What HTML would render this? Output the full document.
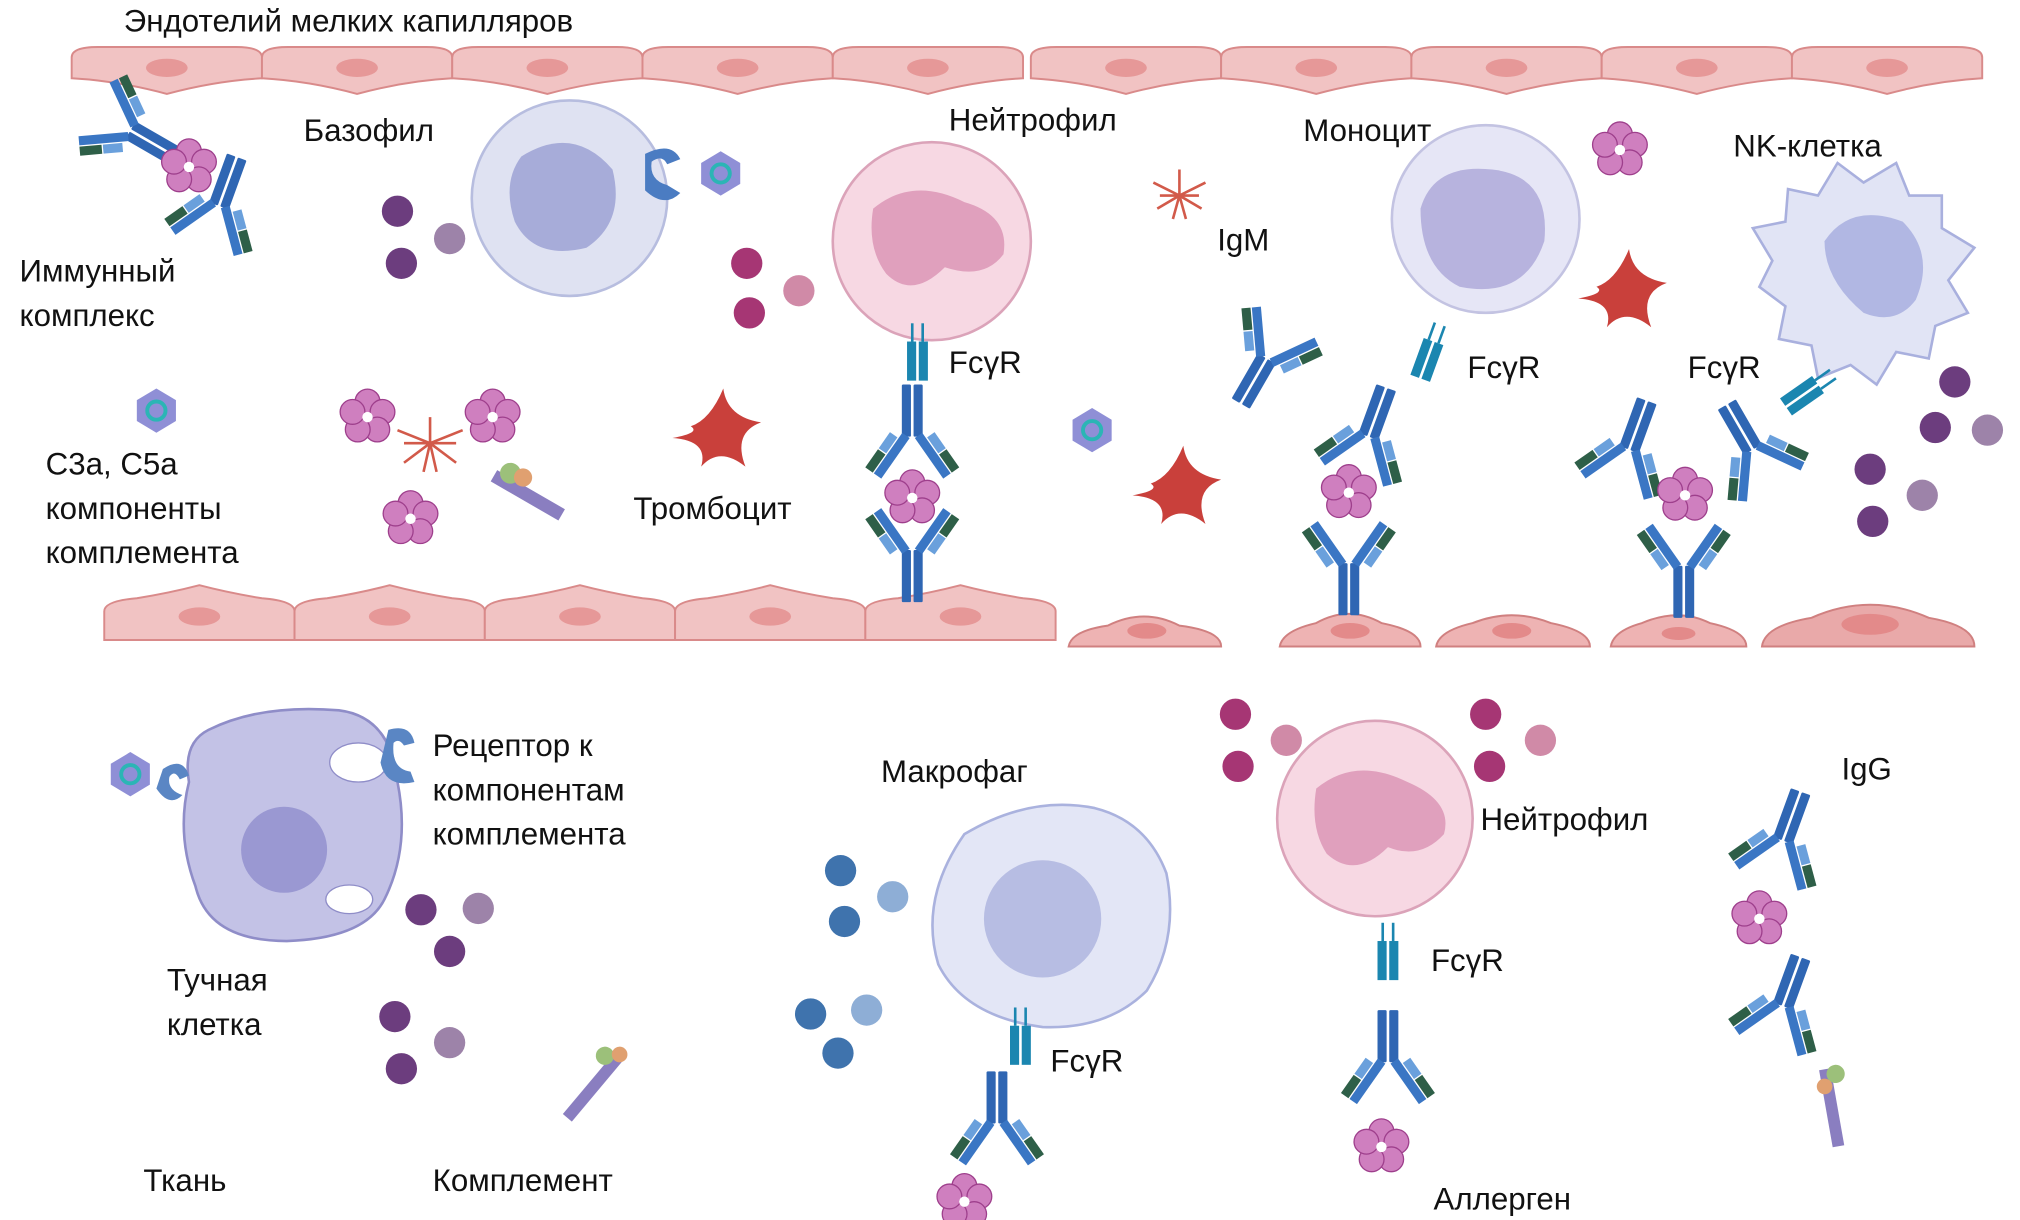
<!DOCTYPE html>
<html><head><meta charset="utf-8"><style>
html,body{margin:0;padding:0;background:#fff;}
svg{display:block;}
text{font-family:"Liberation Sans Narrow","Liberation Sans",sans-serif;font-size:24px;fill:#111;}
</style></head><body>
<svg width="2020" height="1220" viewBox="0 0 1550 936" xmlns="http://www.w3.org/2000/svg">
<defs>
<g id="ab">
  <rect x="-8" y="0" width="7" height="40" fill="#2f66b3" rx="1"/>
  <rect x="1" y="0" width="7" height="40" fill="#2f66b3" rx="1"/>
  <g transform="rotate(-35)"><rect x="-8" y="-40" width="7" height="38" fill="#3a76c4"/><rect x="-16" y="-40" width="7" height="17" fill="#2e5f48"/><rect x="-16" y="-22" width="7" height="15" fill="#6aa0dc"/></g>
  <g transform="rotate(35)"><rect x="1" y="-40" width="7" height="38" fill="#3a76c4"/><rect x="9" y="-40" width="7" height="17" fill="#2e5f48"/><rect x="9" y="-22" width="7" height="15" fill="#6aa0dc"/></g>
</g>
<g id="fl">
  <circle cx="0" cy="-12" r="9.5" fill="#cf7fbf" stroke="#9e3f8c"/>
  <circle cx="11.5" cy="-4" r="9.5" fill="#cf7fbf" stroke="#9e3f8c"/>
  <circle cx="7.5" cy="9.5" r="9.5" fill="#cf7fbf" stroke="#9e3f8c"/>
  <circle cx="-7.5" cy="9.5" r="9.5" fill="#cf7fbf" stroke="#9e3f8c"/>
  <circle cx="-11.5" cy="-4" r="9.5" fill="#cf7fbf" stroke="#9e3f8c"/>
  <circle cx="0" cy="0" r="4" fill="#fff"/>
</g>
<g id="cc"><polygon points="0,-17 15,-8 15,8 0,17 -15,8 -15,-8" fill="#8f8fd6"/><circle r="7" fill="none" stroke="#2bb5b5" stroke-width="3"/></g>
<g id="pl"><path d="M-20,-5 Q-5,-10 5,-34 Q8,-12 34,-8 Q12,0 22,26 Q2,10 -12,26 Q-6,6 -34,4 Q-12,0 -20,-5Z" fill="#c9403b"/></g>
<g id="ec"><path d="M0,10 Q0,2 20,2 L126,2 Q146,2 146,10 L146,26 Q110,28 73,38 Q36,28 0,26Z" fill="#f1c3c3" stroke="#d98a8a" stroke-width="1.5"/><ellipse cx="73" cy="18" rx="16" ry="7" fill="#e69898"/></g>
<g id="ecb"><path d="M0,14 Q0,6 25,4 Q50,0 73,-6 Q96,0 121,4 Q146,6 146,14 L146,36 L0,36Z" fill="#f1c3c3" stroke="#d98a8a" stroke-width="1.5"/><ellipse cx="73" cy="18" rx="16" ry="7" fill="#e69898"/></g>
<g id="rc"><rect x="-8" y="0" width="7" height="30" fill="#1b86b0"/><rect x="1" y="0" width="7" height="30" fill="#1b86b0"/><line x1="-4" y1="0" x2="-4" y2="-14" stroke="#1b86b0" stroke-width="2"/><line x1="4" y1="0" x2="4" y2="-14" stroke="#1b86b0" stroke-width="2"/></g>
</defs>

<g transform="translate(55,34)">
<use href="#ec" x="0"/><use href="#ec" x="146"/><use href="#ec" x="292"/><use href="#ec" x="438"/><use href="#ec" x="584"/><use href="#ec" x="736"/><use href="#ec" x="882"/><use href="#ec" x="1028"/><use href="#ec" x="1174"/><use href="#ec" x="1320"/>
</g>
<text x="95" y="24">Эндотелий мелких капилляров</text>

<g transform="translate(80,455)"><use href="#ecb" x="0"/><use href="#ecb" x="146"/><use href="#ecb" x="292"/><use href="#ecb" x="438"/><use href="#ecb" x="584"/></g>
<g fill="#eeb3b3" stroke="#d08080" stroke-width="1.5">
<path d="M820,496 Q822,484 850,480 Q878,466 905,480 Q937,484 937,496Z"/>
<path d="M982,496 Q984,484 1010,478 Q1035,464 1060,478 Q1090,484 1090,496Z"/>
<path d="M1102,496 Q1104,484 1130,478 Q1160,466 1190,478 Q1220,484 1220,496Z"/>
<path d="M1236,496 Q1238,484 1260,478 Q1288,466 1312,478 Q1340,484 1340,496Z"/>
<path d="M1352,496 Q1354,480 1390,474 Q1435,454 1480,474 Q1515,480 1515,496Z" fill="#e9a9a9"/>
</g>
<g fill="#e38a8a"><ellipse cx="880" cy="484" rx="15" ry="6"/><ellipse cx="1036" cy="484" rx="15" ry="6"/><ellipse cx="1160" cy="484" rx="15" ry="6"/><ellipse cx="1288" cy="486" rx="13" ry="5"/><ellipse cx="1435" cy="479" rx="22" ry="8"/></g>

<circle cx="437" cy="152" r="75" fill="#dfe2f2" stroke="#b7bddf" stroke-width="2"/>
<path d="M400,120 Q440,95 470,130 Q480,170 450,190 Q410,200 395,170 Q385,140 400,120Z" fill="#a7acd9"/>
<path d="M495,118 Q515,108 522,122 L512,126 Q508,118 500,124 Q498,138 512,142 L522,148 Q510,160 495,146Z" fill="#4b7cc2"/>
<use href="#cc" x="553" y="133"/>

<circle cx="715" cy="185" r="76" fill="#f7d8e3" stroke="#dba3b9" stroke-width="2"/>
<path d="M670,160 Q700,135 740,155 Q775,165 770,195 Q755,215 725,205 Q700,230 680,210 Q665,190 670,160Z" fill="#e0a0bd"/>
<use href="#rc" x="704" y="262"/>
<text x="728" y="286">FcγR</text>
<use href="#ab" x="700" y="335" transform="rotate(180 700 335)"/>
<use href="#fl" x="700" y="382"/>
<use href="#ab" x="700" y="422"/>
<text x="728" y="100">Нейтрофил</text>

<circle cx="1140" cy="168" r="72" fill="#e6e6f6" stroke="#c3c3e2" stroke-width="2"/>
<path d="M1090,160 Q1100,125 1145,130 Q1190,135 1185,185 Q1170,230 1120,220 Q1090,205 1090,160Z" fill="#b7b3de"/>
<use href="#rc" x="1100" y="262" transform="rotate(20 1100 262)"/>
<text x="1126" y="290">FcγR</text>
<use href="#ab" x="1050" y="335" transform="rotate(200 1050 335)"/>
<use href="#fl" x="1035" y="378"/>
<use href="#ab" x="1035" y="432"/>
<text x="1000" y="108">Моноцит</text>

<path d="M1360,200 L1345,175 L1370,170 L1372,145 L1395,150 L1410,125 L1430,140 L1455,125 L1465,150 L1490,150 L1490,175 L1515,190 L1495,215 L1510,240 L1485,250 L1480,275 L1455,270 L1440,295 L1420,280 L1395,290 L1390,265 L1365,260 L1370,235 L1350,220Z" fill="#e1e4f5" stroke="#a9b0de" stroke-width="2"/>
<path d="M1400,185 Q1420,155 1460,170 Q1485,195 1470,230 Q1455,250 1430,240 Q1400,215 1400,185Z" fill="#b1b7e3"/>
<use href="#rc" x="1395" y="295" transform="rotate(55 1395 295)"/>
<text x="1295" y="290">FcγR</text>
<use href="#ab" x="1250" y="345" transform="rotate(200 1250 345)"/>
<use href="#ab" x="1345" y="345" transform="rotate(150 1345 345)"/>
<use href="#fl" x="1293" y="380"/>
<use href="#ab" x="1292" y="434"/>
<text x="1330" y="120">NK-клетка</text>

<use href="#pl" x="550" y="332"/>
<use href="#pl" x="903" y="376"/>
<use href="#pl" x="1245" y="225"/>
<use href="#cc" x="120" y="315"/>
<use href="#cc" x="838" y="330"/>
<use href="#cc" x="100" y="594"/>
<text x="486" y="398">Тромбоцит</text>
<text x="934" y="192">IgM</text>
<g stroke="#d25a4a" stroke-width="2" fill="none">
<path d="M905,130 L905,150 M890,150 L920,150 M885,140 L905,150 L925,140 M888,160 L905,150 L922,160 M900,168 L905,150 L910,168"/>
<path d="M330,320 L330,340 M310,340 L350,340 M305,330 L330,340 L355,330 M310,355 L330,340 L350,355 M325,362 L330,340 L335,362"/>
</g>
<use href="#fl" x="1243" y="115"/>
<use href="#fl" x="282" y="320"/>
<use href="#fl" x="378" y="320"/>
<use href="#fl" x="315" y="398"/>
<use href="#ab" x="972" y="275" transform="rotate(30 972 275)"/>
<use href="#ab" x="100" y="100" transform="rotate(-60 100 100)"/>
<use href="#ab" x="168" y="158" transform="rotate(200 168 158)"/>
<use href="#fl" x="145" y="128"/>
<g transform="rotate(30 405 380)"><rect x="375" y="375" width="60" height="10" fill="#8a7ec0"/><circle cx="385" cy="372" r="8" fill="#9cc07a"/><circle cx="395" cy="370" r="7" fill="#e0a070"/></g>

<g>
<circle cx="305" cy="162" r="12" fill="#6c3d7e"/><circle cx="345" cy="183" r="12" fill="#9d83a9"/><circle cx="308" cy="202" r="12" fill="#6c3d7e"/>
<circle cx="573" cy="202" r="12" fill="#a63674"/><circle cx="613" cy="223" r="12" fill="#d08aa7"/><circle cx="575" cy="240" r="12" fill="#a63674"/>
<circle cx="1500" cy="293" r="12" fill="#6c3d7e"/><circle cx="1485" cy="328" r="12" fill="#6c3d7e"/><circle cx="1525" cy="330" r="12" fill="#9d83a9"/><circle cx="1435" cy="360" r="12" fill="#6c3d7e"/><circle cx="1475" cy="380" r="12" fill="#9d83a9"/><circle cx="1437" cy="400" r="12" fill="#6c3d7e"/>
<circle cx="323" cy="698" r="12" fill="#6c3d7e"/><circle cx="367" cy="697" r="12" fill="#9d83a9"/><circle cx="345" cy="730" r="12" fill="#6c3d7e"/><circle cx="303" cy="780" r="12" fill="#6c3d7e"/><circle cx="345" cy="800" r="12" fill="#9d83a9"/><circle cx="308" cy="820" r="12" fill="#6c3d7e"/>
<circle cx="645" cy="668" r="12" fill="#3f73ad"/><circle cx="685" cy="688" r="12" fill="#8eaed6"/><circle cx="648" cy="707" r="12" fill="#3f73ad"/><circle cx="622" cy="778" r="12" fill="#3f73ad"/><circle cx="665" cy="775" r="12" fill="#8eaed6"/><circle cx="643" cy="808" r="12" fill="#3f73ad"/>
<circle cx="948" cy="548" r="12" fill="#a63674"/><circle cx="987" cy="568" r="12" fill="#d08aa7"/><circle cx="950" cy="588" r="12" fill="#a63674"/>
<circle cx="1140" cy="548" r="12" fill="#a63674"/><circle cx="1182" cy="568" r="12" fill="#d08aa7"/><circle cx="1143" cy="588" r="12" fill="#a63674"/>
</g>

<text x="233" y="108">Базофил</text>
<text x="15" y="216">Иммунный</text><text x="15" y="250">комплекс</text>
<text x="35" y="364">С3а, С5а</text><text x="35" y="398">компоненты</text><text x="35" y="432">комплемента</text>

<path d="M160,560 Q200,540 260,545 Q300,550 305,600 Q315,650 295,690 Q280,720 220,722 Q160,722 150,680 Q135,640 145,600 Q140,570 160,560Z" fill="#c3c2e6" stroke="#8f8dc8" stroke-width="2"/>
<circle cx="218" cy="652" r="33" fill="#9a98d2"/>
<ellipse cx="275" cy="585" rx="22" ry="15" fill="#fff" stroke="#8f8dc8"/>
<ellipse cx="268" cy="690" rx="18" ry="11" fill="#fff" stroke="#8f8dc8"/>
<path d="M298,560 Q315,555 318,570 L310,572 Q306,566 302,570 Q300,590 315,592 L318,600 Q296,605 292,585Z" fill="#5a86c4"/>
<path d="M125,590 Q140,580 145,595 L138,598 Q134,590 130,596 Q128,606 140,610 Q130,620 120,605Z" fill="#5a86c4"/>
<text x="332" y="580">Рецептор к</text><text x="332" y="614">компонентам</text><text x="332" y="648">комплемента</text>
<text x="128" y="760">Тучная</text><text x="128" y="794">клетка</text>
<text x="110" y="914">Ткань</text>
<text x="332" y="914">Комплемент</text>
<g transform="rotate(-50 455 835)"><rect x="425" y="830" width="60" height="9" fill="#8a7ec0"/><circle cx="480" cy="826" r="7" fill="#9cc07a"/><circle cx="488" cy="834" r="6" fill="#e0a070"/></g>

<path d="M740,640 Q790,610 840,620 Q880,630 895,670 Q905,720 880,760 Q850,790 800,788 Q740,780 720,740 Q705,690 740,640Z" fill="#e3e6f6" stroke="#aab2de" stroke-width="2"/>
<circle cx="800" cy="705" r="45" fill="#b7bde3"/>
<use href="#rc" x="783" y="787"/>
<text x="806" y="822">FcγR</text>
<use href="#ab" x="765" y="862" transform="rotate(180 765 862)"/>
<use href="#fl" x="740" y="922"/>
<text x="676" y="600">Макрофаг</text>

<circle cx="1055" cy="628" r="75" fill="#f7d8e3" stroke="#dba3b9" stroke-width="2"/>
<path d="M1010,605 Q1040,580 1080,600 Q1115,615 1108,640 Q1090,660 1065,650 Q1040,675 1018,655 Q1005,635 1010,605Z" fill="#e0a0bd"/>
<use href="#rc" x="1065" y="722"/>
<text x="1098" y="745">FcγR</text>
<use href="#ab" x="1065" y="815" transform="rotate(180 1065 815)"/>
<use href="#fl" x="1060" y="880"/>
<text x="1136" y="637">Нейтрофил</text>
<text x="1100" y="928">Аллерген</text>

<text x="1413" y="598">IgG</text>
<use href="#ab" x="1368" y="645" transform="rotate(200 1368 645)"/>
<use href="#fl" x="1350" y="705"/>
<use href="#ab" x="1368" y="772" transform="rotate(200 1368 772)"/>
<g transform="rotate(80 1405 850)"><rect x="1375" y="845" width="60" height="9" fill="#8a7ec0"/><circle cx="1380" cy="842" r="7" fill="#9cc07a"/><circle cx="1388" cy="852" r="6" fill="#e0a070"/></g>
</svg>
</body></html>
